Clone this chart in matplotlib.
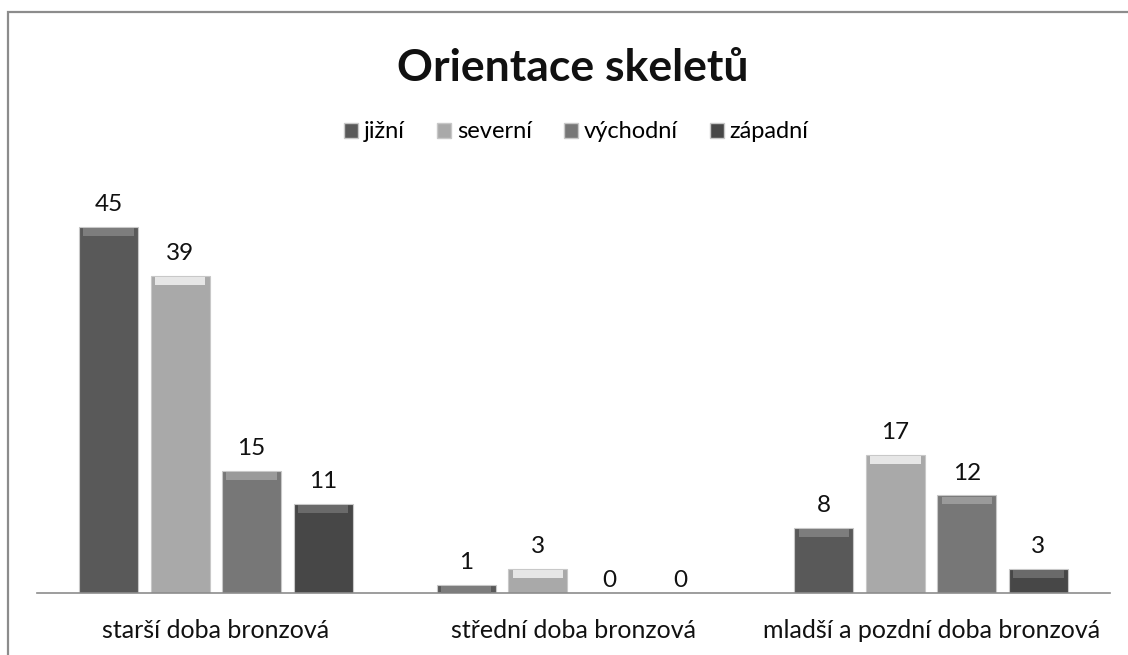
import numpy as np
import matplotlib
matplotlib.use('Agg')
import matplotlib.pyplot as plt
from matplotlib.patches import Rectangle, Patch

plt.rcParams['font.family'] = ['Lato', 'DejaVu Sans']

categories = ['starší doba bronzová', 'střední doba bronzová', 'mladší a pozdní doba bronzová']
series = ['jižní', 'severní', 'východní', 'západní']
values = {
    'jižní':    [45, 1, 8],
    'severní':  [39, 3, 17],
    'východní': [15, 0, 12],
    'západní':  [11, 0, 3],
}

face = {'jižní': '#595959', 'severní': '#a9a9a9', 'východní': '#777777', 'západní': '#474747'}
top = {'jižní': '#7d7d7d', 'severní': '#e6e6e6', 'východní': '#9a9a9a', 'západní': '#6a6a6a'}

fig = plt.figure(figsize=(11.28, 6.55), dpi=100)
ax = fig.add_axes([37 / 1128, 62 / 655, 1073 / 1128, 406.5 / 655])

x = np.arange(len(categories))
width = 0.165
offsets = [-0.3, -0.1, 0.1, 0.3]

for s, off in zip(series, offsets):
    vals = values[s]
    bars = ax.bar(x + off, vals, width, color=face[s], edgecolor='#c8c8c8', linewidth=0.8, zorder=2)
    # lighter top strip for the bevel look
    for b, v in zip(bars, vals):
        if v > 0:
            h = min(v, 1.1)
            ax.add_patch(Rectangle((b.get_x() + 0.012, v - h), width - 0.024, h * 0.85,
                                   facecolor=top[s], edgecolor='none', zorder=3))
        dy = 8.5 if v > 0 else 1.5
        ax.annotate(str(v), (b.get_x() + width / 2, v), xytext=(0, dy),
                    textcoords='offset points', ha='center', va='bottom', fontsize=17.5, color='#111111')

ax.set_xlim(-0.5, 2.5)
ax.set_ylim(0, 50)
ax.set_yticks([])
ax.set_xticks(x)
ax.set_xticklabels(categories, fontsize=18, color='#111111')
ax.tick_params(axis='x', length=0, pad=19)
for sp in ['top', 'left', 'right']:
    ax.spines[sp].set_visible(False)
ax.spines['bottom'].set_color('#8c8c8c')
ax.spines['bottom'].set_linewidth(1.2)

fig.text(0.508, 1 - 68 / 655, 'Orientace skeletů', ha='center', va='center',
         fontsize=32, fontweight='bold', color='#111111')

handles = [Patch(facecolor=face[s], edgecolor='#c8c8c8', label=s) for s in series]
fig.legend(handles=handles, loc='center', bbox_to_anchor=(0.511, 1 - 132 / 655), ncol=4,
           frameon=False, fontsize=17, handlelength=0.6, handleheight=0.6,
           handletextpad=0.25, columnspacing=1.35)

fig.add_artist(Rectangle((8 / 1128, -0.05), 1.2, 1.05 - 12 / 655, transform=fig.transFigure,
                         fill=False, edgecolor='#8c8c8c', linewidth=1.6))

fig.savefig('out.png', dpi=100)
